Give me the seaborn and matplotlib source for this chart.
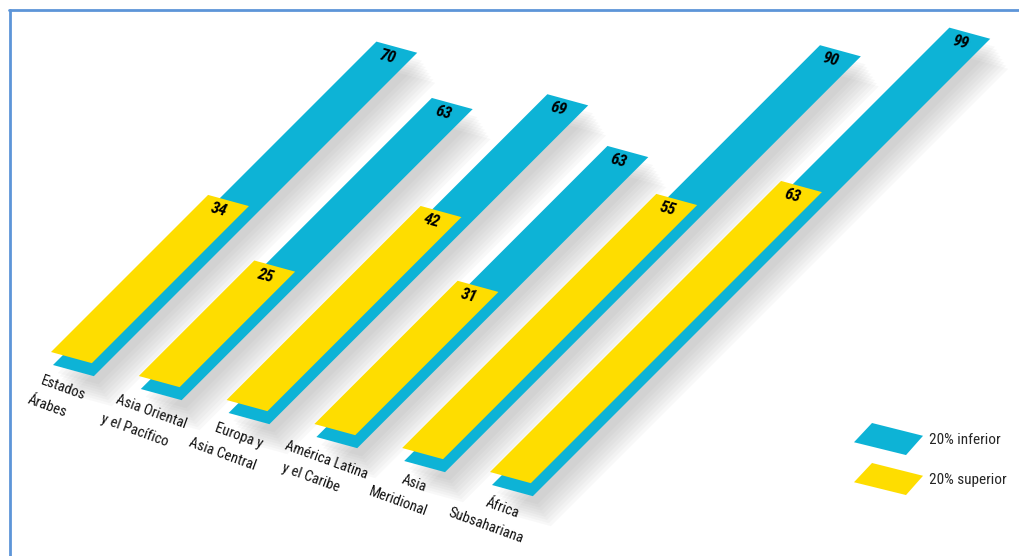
import numpy as np
import pandas as pd
import matplotlib
matplotlib.use("Agg")
import matplotlib.pyplot as plt
import seaborn as sns
from matplotlib.transforms import Affine2D
from matplotlib.patches import Polygon, Patch
from matplotlib.legend_handler import HandlerPatch
from matplotlib.lines import Line2D
from matplotlib import font_manager

# ---------------- data ----------------
regiones = ["Estados\nÁrabes", "Asia Oriental\ny el Pacífico", "Europa y\nAsia Central",
            "América Latina\ny el Caribe", "Asia\nMeridional", "África\nSubsahariana"]
inferior = [70, 63, 69, 63, 90, 99]   # 20% inferior (blue)
superior = [34, 25, 42, 31, 55, 63]   # 20% superior (yellow)
series = ["20% inferior", "20% superior"]
colores = ["#0db3d6", "#fedd00"]

# ---------------- style ----------------
sns.set_theme(style="white")
_names = {f.name for f in font_manager.fontManager.ttflist}
def pick(cands):
    for c in cands:
        if c in _names:
            return c
    return "DejaVu Sans"
COND = pick(["Liberation Sans Narrow", "Roboto Condensed", "Open Sans Condensed", "Roboto", "DejaVu Sans"])
plt.rcParams["font.family"] = [COND, "DejaVu Sans"]

W, H = 1019, 556
fig = plt.figure(figsize=(W / 100, H / 100), dpi=100)
ax = fig.add_axes([0, 0, 1, 1])

# oblique projection: (value, category) -> pixel
BW = 0.465                 # bar width in category units
U = (4.62, -4.62)          # one value unit
S = (87.8, 24.0)           # one category step
O = (51.0, 352.0)          # origin of first bar
D = (2.0, 13.0)            # depth offset of the blue (back) bars

def proj(dx=0.0, dy=0.0):
    return Affine2D(np.array([[U[0], S[0], O[0] + BW / 2 * S[0] + dx],
                              [U[1], S[1], O[1] + BW / 2 * S[1] + dy],
                              [0.0, 0.0, 1.0]]))

df = pd.DataFrame({"region": regiones, "inferior": inferior, "superior": superior})

def bars(col, color, tr, zorder, alpha=1.0):
    n0 = len(ax.patches)
    sns.barplot(data=df, x=col, y="region", orient="h", width=BW, color=color,
                saturation=1, errorbar=None, ax=ax, alpha=alpha)
    for p in ax.patches[n0:]:
        p.set_transform(tr + ax.transData)
        p.set_zorder(zorder)
        p.set_linewidth(0)

# soft shadows
for k in np.linspace(0.4, 1.5, 8):
    bars("inferior", (0.55, 0.55, 0.55), proj(D[0] + 12 * k, D[1] + 20 * k), 1, alpha=0.055)
# blue (back) and yellow (front)
bars("inferior", colores[0], proj(*D), 2)
bars("superior", colores[1], proj(), 3)

# value labels
ang = -np.degrees(np.arctan2(S[1] * BW, S[0] * BW))
for i, v in enumerate(inferior):
    x, y = proj(*D).transform((v - 2.0, i))
    ax.text(x, y, str(v), rotation=ang, rotation_mode="anchor", ha="center", va="center",
            fontsize=12, fontweight="bold", fontstyle="italic", color="black", zorder=5)
for i, v in enumerate(superior):
    x, y = proj().transform((v - 2.0, i))
    ax.text(x, y, str(v), rotation=ang, rotation_mode="anchor", ha="center", va="center",
            fontsize=12, fontweight="bold", fontstyle="italic", color="black", zorder=5)

# category labels
for i, lab in enumerate(regiones):
    bx, by = proj(*D).transform((0, i - BW / 2))
    l1, l2 = lab.split("\n")
    ax.text(bx + 10, by + 23, l1, rotation=-20, rotation_mode="anchor", ha="center", va="center",
            fontsize=10.5, color="#111111", zorder=5)
    ax.text(bx - 6, by + 41, l2, rotation=-20, rotation_mode="anchor", ha="center", va="center",
            fontsize=10.5, color="#111111", zorder=5)

ax.set_xlim(0, W)
ax.set_ylim(H, 0)
ax.axis("off")

# legend with parallelogram handles
class HandlerPara(HandlerPatch):
    def create_artists(self, legend, orig_handle, xdescent, ydescent, width, height, fontsize, trans):
        fx = [0.0, 18 / 69, 1.0, 52 / 69]
        fy = [12 / 30, 1.0, 18 / 30, 0.0]
        pts = [(-xdescent + a * width, -ydescent + b * height) for a, b in zip(fx, fy)]
        p = Polygon(pts, closed=True, facecolor=orig_handle.get_facecolor(), edgecolor="none",
                    transform=trans)
        return [p]

handles = [Patch(facecolor=c) for c in colores]
fs = 11
fig.legend(handles, series, handler_map={Patch: HandlerPara()}, loc="upper left",
           bbox_to_anchor=(854 / W, 1 - 423 / H), bbox_transform=fig.transFigure,
           frameon=False, fontsize=fs, handlelength=49.7 / fs, handleheight=2.85,
           labelspacing=0.52, handletextpad=4.5 / fs, borderpad=0, borderaxespad=0)

# frame lines (top and left)
fig.add_artist(Line2D([10 / W, 10 / W], [0, 1 - 10 / H], transform=fig.transFigure,
                      color="#5d95d8", lw=2))
fig.add_artist(Line2D([9 / W, 1], [1 - 10 / H, 1 - 10 / H], transform=fig.transFigure,
                      color="#5d95d8", lw=2))

fig.savefig("out.png", dpi=100)
